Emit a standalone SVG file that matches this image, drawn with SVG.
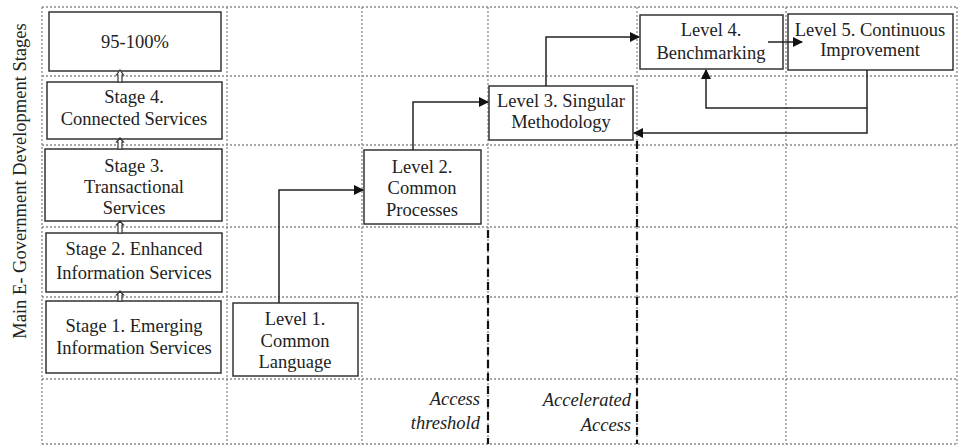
<svg xmlns="http://www.w3.org/2000/svg" width="959" height="446" viewBox="0 0 959 446">
<style>
.grid{stroke:#8a8a8a;stroke-width:1.3;stroke-dasharray:2 2;fill:none}
.box{fill:#fff;stroke:#333;stroke-width:1.5}
.t{font-family:"Liberation Serif","Times New Roman",serif;font-size:18.5px;fill:#222;text-anchor:middle}
.it{font-family:"Liberation Serif","Times New Roman",serif;font-size:18.5px;font-style:italic;fill:#222;text-anchor:end}
.con{fill:none;stroke:#222;stroke-width:1.5}
.thr{stroke:#111;stroke-width:2.2;stroke-dasharray:8 5;fill:none}
.ua{fill:#fff;stroke:#333;stroke-width:1.2}
</style>
<defs>
<marker id="ah" markerWidth="10" markerHeight="10" refX="9" refY="5" orient="auto" markerUnits="userSpaceOnUse">
<path d="M0,0 L10,5 L0,10 z" fill="#111"/>
</marker>
</defs>
<rect width="959" height="446" fill="#fff"/>
<g id="grid">
<path class="grid" d="M42,7 H957 M42,76 H957 M42,145 H957 M42,227 H957 M42,297 H957 M42,379 H957 M42,444 H957"/>
<path class="grid" d="M42,7 V444 M227,7 V444 M362,7 V444 M488,7 V444 M637,7 V444 M786,7 V444 M957,7 V444"/>
</g>
<g id="thresholds">
<path class="thr" d="M488,230 V444"/>
<path class="thr" d="M637,141 V444"/>
</g>
<text class="t" transform="translate(26,181) rotate(-90)">Main E- Government Development Stages</text>
<g id="stage5"><rect class="box" x="49" y="12" width="172" height="59"/><text class="t" x="135" y="48">95-100%</text></g>
<g id="stage4"><rect class="box" x="47" y="82" width="175" height="57"/><text class="t" x="134" y="103">Stage 4.</text><text class="t" x="134" y="125">Connected Services</text></g>
<g id="stage3"><rect class="box" x="45" y="149" width="177" height="72"/><text class="t" x="134" y="172">Stage 3.</text><text class="t" x="134" y="193">Transactional</text><text class="t" x="134" y="214">Services</text></g>
<g id="stage2"><rect class="box" x="46" y="233" width="176" height="59"/><text class="t" x="134" y="255">Stage 2. Enhanced</text><text class="t" x="134" y="279">Information Services</text></g>
<g id="stage1"><rect class="box" x="46" y="301" width="175" height="72"/><text class="t" x="134" y="332">Stage 1. Emerging</text><text class="t" x="134" y="354">Information Services</text></g>
<g id="level1"><rect class="box" x="233" y="303" width="125" height="73"/><text class="t" x="295" y="325">Level 1.</text><text class="t" x="295" y="347">Common</text><text class="t" x="295" y="368">Language</text></g>
<g id="level2"><rect class="box" x="364" y="150" width="117" height="74"/><text class="t" x="422" y="173">Level 2.</text><text class="t" x="422" y="194">Common</text><text class="t" x="422" y="216">Processes</text></g>
<g id="level3"><rect class="box" x="489" y="86" width="144" height="54"/><text class="t" x="561" y="107">Level 3. Singular</text><text class="t" x="561" y="128">Methodology</text></g>
<g id="level4"><rect class="box" x="640" y="15" width="143" height="54"/><text class="t" x="711" y="36">Level 4.</text><text class="t" x="711" y="59">Benchmarking</text></g>
<g id="level5"><rect class="box" x="788" y="14" width="165" height="56"/><text class="t" x="870" y="36">Level 5. Continuous</text><text class="t" x="870" y="56">Improvement</text></g>
<g id="connectors">
<path class="ua" d="M118,82 V75 H116.5 L120,70 L123.5,75 H122 V82 Z"/>
<path class="ua" d="M118,149 V142 H116.5 L120,138 L123.5,142 H122 V149 Z"/>
<path class="ua" d="M118,233 V225 H116.5 L120,221 L123.5,225 H122 V233 Z"/>
<path class="ua" d="M118,301 V295 H116.5 L120,291 L123.5,295 H122 V301 Z"/>
<path class="con" d="M279,303 V190 H363" marker-end="url(#ah)"/>
<path class="con" d="M413,150 V102 H488" marker-end="url(#ah)"/>
<path class="con" d="M546,86 V37 H639" marker-end="url(#ah)"/>
<path class="con" d="M768,42 H802" marker-end="url(#ah)"/>
<path class="con" d="M867,70 V108 H706 V70" marker-end="url(#ah)"/>
<path class="con" d="M867,108 V133 H634" marker-end="url(#ah)"/>
</g>
<g id="labels">
<text class="it" x="480" y="405">Access</text>
<text class="it" x="480" y="429">threshold</text>
<text class="it" x="631" y="406">Accelerated</text>
<text class="it" x="631" y="431">Access</text>
</g>
</svg>
